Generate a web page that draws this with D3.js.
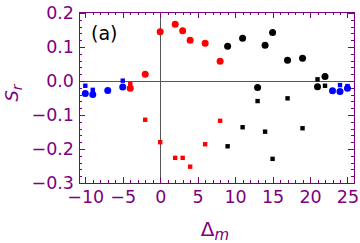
<!DOCTYPE html>
<meta charset="utf-8">
<html>
<head>
<script src="https://d3js.org/d3.v7.min.js" charset="utf-8"></script>
<style type="text/css">
    body { margin: 0; background: #fff; }
    .axis text { font-family: "DejaVu Sans", sans-serif; font-size: 17.5px; fill: #800080; }
    .axis path, .axis line { stroke: #800080; shape-rendering: crispEdges; }
</style>
</head>
<body>
<div id="chart"></div>
<script type="text/javascript">
// data: [Delta_m, S_r]
var redCircles = [[-4, -0.021], [-2, 0.020], [0, 0.145], [2, 0.167], [3, 0.148], [4, 0.120], [6, 0.111], [8, 0.058]];
var redSquares = [[-4, -0.009], [-2, -0.114], [0, -0.180], [2, -0.226], [3, -0.226], [4, -0.252], [6, -0.186], [8, -0.117]];
var blackCircles = [[9, 0.102], [11, 0.126], [13, -0.019], [14, 0.105], [15, 0.143], [17, 0.061], [19, 0.067], [21, -0.017], [22, 0.013]];
var blackSquares = [[9, -0.192], [11, -0.136], [13, -0.059], [14, -0.149], [15, -0.229], [17, -0.051], [19, -0.139], [21, 0.005], [22, -0.014]];
var blueCircles = [[-10, -0.037], [-9, -0.040], [-7, -0.028], [-5, -0.018], [23, -0.029], [24, -0.031], [25, -0.021]];
var blueSquares = [[-10, -0.014], [-9, -0.026], [-5, 0.001], [24, -0.012], [25, -0.015]];

var xTicks = [-10, -5, 0, 5, 10, 15, 20, 25];
var yTicks = [-0.3, -0.2, -0.1, 0.0, 0.1, 0.2];

var width = 360, height = 243;
var frameLeft = 79, frameRight = 354, frameTop = 12, frameBottom = 183;

var xScale = d3.scaleLinear().domain([-10.84, 25.87]).range([frameLeft, frameRight]);
var yScale = d3.scaleLinear().domain([-0.3, 0.2]).range([frameBottom, frameTop + 1]);

var svg = d3.select("#chart").append("svg")
    .attr("width", width)
    .attr("height", height);

// zero lines
svg.append("line")
    .attr("x1", xScale(0)).attr("x2", xScale(0))
    .attr("y1", frameTop).attr("y2", frameBottom)
    .attr("stroke", "#555").attr("stroke-width", 1)
    .attr("shape-rendering", "crispEdges");
svg.append("line")
    .attr("x1", frameLeft).attr("x2", frameRight)
    .attr("y1", yScale(0)).attr("y2", yScale(0))
    .attr("stroke", "#555").attr("stroke-width", 1)
    .attr("shape-rendering", "crispEdges");

var xMinor = d3.range(-10, 26, 1);
var yMinor = d3.range(-0.3, 0.201, 0.02);

// frame axes, ticks pointing inward
function frameAxis(axisFn, scale, pos, major, minor, labels) {
    var g = svg.append("g").attr("class", "axis").attr("transform", pos);
    g.call(axisFn(scale).tickValues(minor).tickSize(-3).tickFormat(""));
    var gm = svg.append("g").attr("class", "axis").attr("transform", pos);
    var ax = axisFn(scale).tickValues(major).tickSize(-6).tickSizeOuter(0);
    if (labels) ax.tickFormat(labels); else ax.tickFormat("");
    gm.call(ax);
    return gm;
}

var xb = frameAxis(d3.axisBottom, xScale, "translate(0," + frameBottom + ")", xTicks, xMinor, d3.format("d"));
xb.selectAll("text").attr("y", 8);
frameAxis(d3.axisTop, xScale, "translate(0," + frameTop + ")", xTicks, xMinor, null);
var yl = frameAxis(d3.axisLeft, yScale, "translate(" + frameLeft + ",0)", yTicks, yMinor, d3.format(".1f"));
yl.selectAll("text").attr("x", -5);
frameAxis(d3.axisRight, yScale, "translate(" + frameRight + ",0)", yTicks, yMinor, null);

svg.selectAll(".axis .domain").remove();
svg.append("rect")
    .attr("x", frameLeft).attr("y", frameTop)
    .attr("width", frameRight - frameLeft).attr("height", frameBottom - frameTop)
    .attr("fill", "none").attr("stroke", "#800080")
    .attr("shape-rendering", "crispEdges");

// squares
function squares(data, color) {
    svg.append("g").selectAll("rect")
        .data(data).enter().append("rect")
        .attr("x", function(d) { return xScale(d[0]) - 2.2; })
        .attr("y", function(d) { return yScale(d[1]) - 2.2; })
        .attr("width", 4.4).attr("height", 4.4)
        .attr("fill", color);
}
// circles
function circles(data, color) {
    svg.append("g").selectAll("circle")
        .data(data).enter().append("circle")
        .attr("cx", function(d) { return xScale(d[0]); })
        .attr("cy", function(d) { return yScale(d[1]); })
        .attr("r", 3.5)
        .attr("fill", color);
}
squares(blueSquares, "#0000ff");
squares(redSquares, "#ff0000");
squares(blackSquares, "#000");
circles(blueCircles, "#0000ff");
circles(redCircles, "#ff0000");
circles(blackCircles, "#000");

// panel label
svg.append("text")
    .attr("x", 91).attr("y", 40)
    .attr("font-family", "DejaVu Sans, sans-serif")
    .attr("font-size", "19px")
    .attr("fill", "#000")
    .text("(a)");

// x label
var xlabel = svg.append("text")
    .attr("text-anchor", "middle")
    .attr("transform", "translate(" + 215 + "," + 236 + ")")
    .attr("font-family", "DejaVu Sans, sans-serif")
    .attr("font-size", "20px")
    .attr("fill", "#800080");
xlabel.append("tspan").text("\u0394");
xlabel.append("tspan").attr("dy", 4).attr("font-size", "15px").attr("font-style", "italic").text("m");

// y label
var ylabel = svg.append("text")
    .attr("text-anchor", "middle")
    .attr("transform", "translate(" + 18 + "," + 93 + ")rotate(-90)")
    .attr("font-family", "DejaVu Sans, sans-serif")
    .attr("font-size", "18px")
    .attr("fill", "#800080");
ylabel.append("tspan").attr("font-style", "italic").text("S");
ylabel.append("tspan").attr("dy", 4).attr("font-size", "14px").attr("font-style", "italic").text("r");
</script>
</body>
</html>
